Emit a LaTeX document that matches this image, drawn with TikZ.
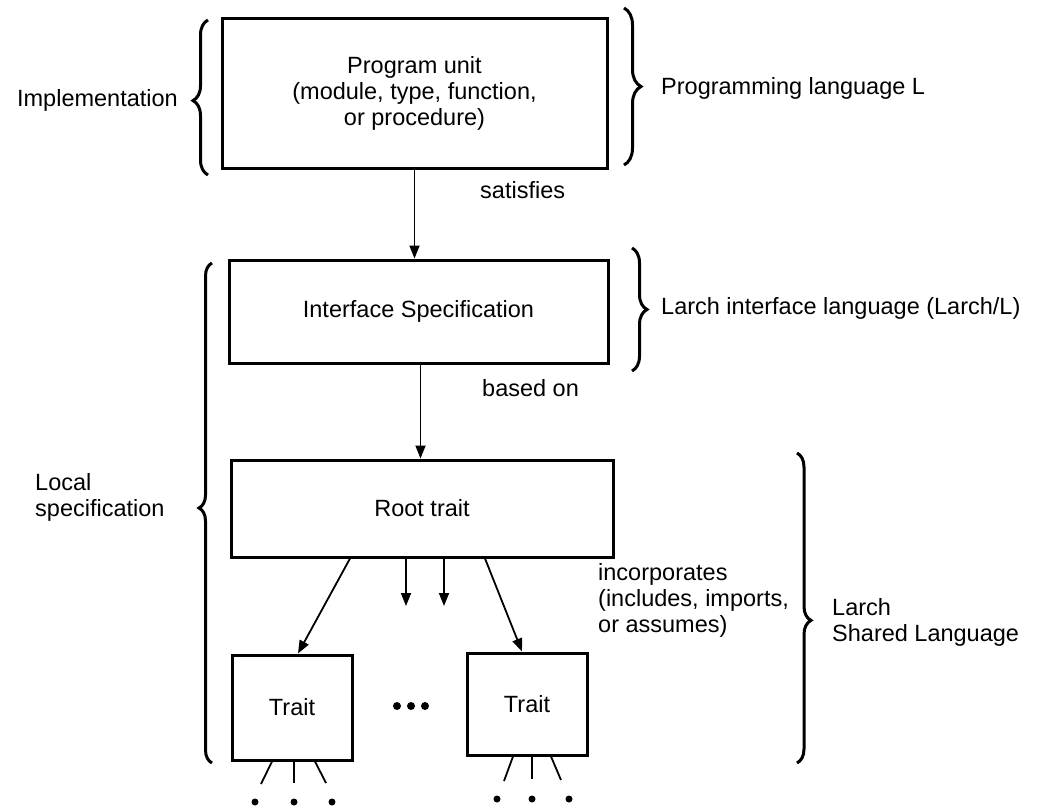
\documentclass[tikz,border=0pt]{standalone}
\usepackage{fontspec}
\setmainfont{Liberation Sans}
\usetikzlibrary{arrows.meta,decorations.pathreplacing,calc}
\begin{document}
\begin{tikzpicture}[x=1pt,y=-1pt,
  every node/.style={font=\fontsize{23.5}{26}\selectfont, inner sep=0pt},
  box/.style={draw, line width=3pt, inner sep=0pt, align=center},
  arr/.style={line width=1.8pt, -{Triangle[length=13pt,width=10pt]}},
  thin/.style={line width=1.8pt},
  brc/.style={line width=3pt, decorate, decoration={brace, amplitude=#1}},
  lbl/.style={align=left}
]
\useasboundingbox (0,0) rectangle (1050,809);

% boxes
\node[box, minimum width=385pt, minimum height=150pt] (pu) at (414.5,93)
  {Program unit\\(module, type, function,\\or procedure)};
\node[box, minimum width=379pt, minimum height=103pt] (is) at (418.5,311.5)
  {Interface Specification};
\node[box, minimum width=382pt, minimum height=97pt] (rt) at (422,508.5)
  {Root trait};
\node[box, minimum width=120pt, minimum height=105pt] (t1) at (292,707.5) {Trait};
\node[box, minimum width=120pt, minimum height=102pt] (t2) at (527,704) {Trait};

% main arrows
\draw[arr] (pu.south) -- (pu.south |- is.north);
\draw[arr] ([xshift=2pt]is.south) -- ([xshift=2pt]is.south |- rt.north);
\node[anchor=west] (sat) at (480,190) {satisfies};
\node[anchor=west] (bas) at (482,388) {based on};

% root to traits
\draw[arr] ([xshift=-72pt]rt.south) -- ([xshift=6pt]t1.north);
\draw[arr] ([xshift=63pt]rt.south) -- ([xshift=-5pt]t2.north);
\coordinate (m1) at (406,606);
\coordinate (m2) at (444,606);
\draw[arr] (rt.south -| m1) -- (m1);
\draw[arr] (rt.south -| m2) -- (m2);

% ellipsis between traits
\fill (397,706) circle (4pt) (411,706) circle (4pt) (425,706) circle (4pt);

% lines below traits
\coordinate (a1) at (261,784);
\coordinate (a2) at (294,783);
\coordinate (a3) at (326,783);
\draw[thin] ([xshift=-20pt]t1.south) -- (a1);
\draw[thin] ([xshift=2pt]t1.south) -- (a2);
\draw[thin] ([xshift=23pt]t1.south) -- (a3);
\fill (255,802) circle (3.5pt) (294,802) circle (3.5pt) (332,802) circle (3.5pt);
\coordinate (b1) at (504,781);
\coordinate (b2) at (532,779);
\coordinate (b3) at (561,780);
\draw[thin] ([xshift=-14pt]t2.south) -- (b1);
\draw[thin] ([xshift=5pt]t2.south) -- (b2);
\draw[thin] ([xshift=24pt]t2.south) -- (b3);
\fill (497,799) circle (3.5pt) (532,799) circle (3.5pt) (569,799) circle (3.5pt);

\node[lbl, anchor=west] (inc) at (598,600)
  {incorporates\\(includes, imports,\\or assumes)};

% braces and side labels
\draw[brc=15pt, decoration={aspect=0.48}] (208,175) -- (208,20);
\node[anchor=east] (impl) at (178,100) {Implementation};

\draw[brc=17pt] (624,8) -- (624,165);
\node[anchor=west] (pl) at (661,88) {Programming language L};

\draw[brc=15pt] (632,248) -- (632,371);
\node[anchor=west] (li) at (661,308) {Larch interface language (Larch/L)};

\draw[brc=13pt, decoration={aspect=0.51}] (212,763) -- (212,263);
\node[lbl, anchor=west] (ls) at (35,497) {Local\\specification};

\draw[brc=14pt, decoration={aspect=0.54}] (797,453) -- (797,763);
\node[lbl, anchor=west] (lsl) at (832,622) {Larch\\Shared Language};
\end{tikzpicture}
\end{document}
